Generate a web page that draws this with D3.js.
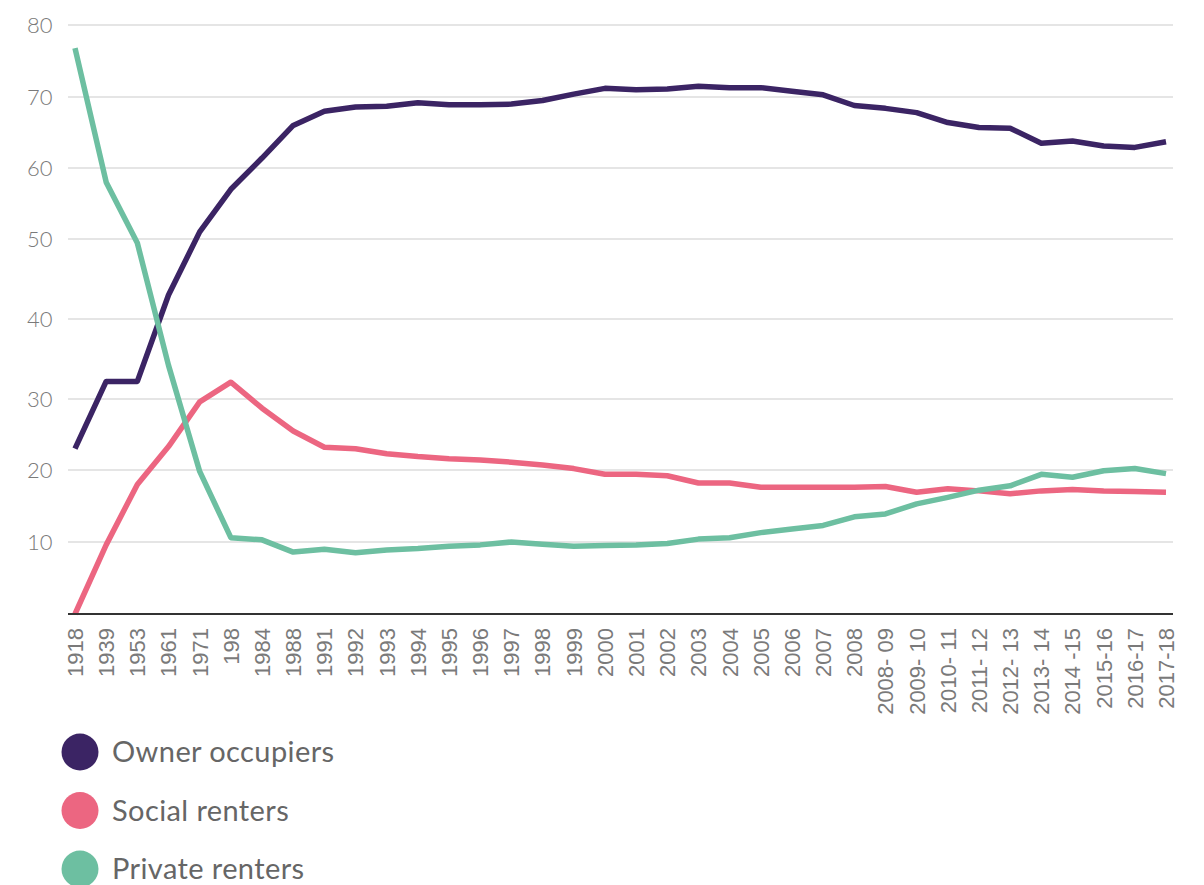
<!DOCTYPE html>
<html>
<head>
<meta charset="utf-8">
<script src="https://cdn.jsdelivr.net/npm/d3@7"></script>
<style>
  body { margin: 0; background: #fff; }
  svg { display: block; }
</style>
</head>
<body>
<svg id="chart" width="1204" height="885"></svg>
<script>
// Data (% of households)
const years = ["1918", "1939", "1953", "1961", "1971", "198", "1984", "1988", "1991",
    "1992", "1993", "1994", "1995", "1996", "1997", "1998", "1999", "2000", "2001",
    "2002", "2003", "2004", "2005", "2006", "2007", "2008", "2008- 09", "2009- 10",
    "2010- 11", "2011- 12", "2012- 13", "2013- 14", "2014 -15", "2015-16", "2016-17", "2017-18"];

const ownerOccupiers = [23, 32.2, 32.2, 43, 51, 57, 61.4, 66, 68, 68.6, 68.7, 69.2, 68.9,
    68.9, 69.0, 69.5, 70.4, 71.2, 71.0, 71.1, 71.5, 71.3, 71.3, 70.8, 70.3, 68.8, 68.4,
    67.8, 66.4, 65.7, 65.6, 63.5, 63.8, 63.1, 62.9, 63.7];

const socialRenters = [0, 9.6, 18, 23.3, 29.6, 32.1, 28.7, 25.5, 23.2, 23.0, 22.3, 21.9,
    21.6, 21.4, 21.1, 20.7, 20.2, 19.4, 19.4, 19.2, 18.2, 18.2, 17.6, 17.6, 17.6, 17.6,
    17.7, 16.9, 17.4, 17.1, 16.7, 17.1, 17.3, 17.1, 17.0, 16.9];

const privateRenters = [76.8, 58, 49.5, 34.2, 19.8, 10.6, 10.3, 8.6, 9.0, 8.5, 8.9, 9.1,
    9.4, 9.6, 10.0, 9.7, 9.4, 9.5, 9.6, 9.8, 10.4, 10.6, 11.3, 11.8, 12.3, 13.5, 13.9,
    15.3, 16.2, 17.2, 17.8, 19.4, 19.0, 19.9, 20.2, 19.5];

const yTicks = [10, 20, 30, 40, 50, 60, 70, 80];

const seriesNames = ["Owner occupiers", "Social renters", "Private renters"];
const seriesColors = ["#3b2464", "#ec6681", "#6dbfa1"];

const series = [ownerOccupiers, socialRenters, privateRenters].map((vals, i) => ({
    name: seriesNames[i],
    color: seriesColors[i],
    values: vals.map((v, j) => ({ year: years[j], value: v }))
}));

const svg = d3.select("#chart");

// Scales (gridlines in the reference are slightly unevenly spaced)
const x = d3.scalePoint()
    .domain(years)
    .range([75, 1166]);

const y = d3.scaleLinear()
    .domain([0, 10, 20, 30, 40, 50, 60, 70, 80])
    .range([614, 542, 470, 399, 319, 239, 168, 97, 25]);

const gridLeft = 68, gridRight = 1173;

// Gridlines + y labels
const yAxis = svg.append("g");
yAxis.selectAll("line")
    .data(yTicks)
    .join("line")
    .attr("x1", gridLeft)
    .attr("x2", gridRight)
    .attr("y1", d => y(d))
    .attr("y2", d => y(d))
    .attr("stroke", "#cccccc")
    .attr("stroke-width", 1.2);

yAxis.selectAll("text")
    .data(yTicks)
    .join("text")
    .attr("x", 27)
    .attr("y", d => y(d))
    .attr("dy", "0.36em")
    .attr("fill", "#7a7a7a")
    .style("font-family", "Lato, 'Open Sans', sans-serif")
    .style("font-weight", 300)
    .style("font-size", "22px")
    .text(d => d);

// Lines
const line = d3.line()
    .x(d => x(d.year))
    .y(d => y(d.value));

svg.append("g")
    .selectAll("path")
    .data(series)
    .join("path")
    .attr("d", d => line(d.values))
    .attr("fill", "none")
    .attr("stroke", d => d.color)
    .attr("stroke-width", 5.5)
    .attr("stroke-linejoin", "round");

// Bottom axis line
svg.append("line")
    .attr("x1", gridLeft)
    .attr("x2", gridRight)
    .attr("y1", y(0))
    .attr("y2", y(0))
    .attr("stroke", "#333")
    .attr("stroke-width", 2);

// X labels, rotated
svg.append("g")
    .selectAll("text")
    .data(years)
    .join("text")
    .attr("transform", d => `translate(${x(d)}, 628) rotate(-90)`)
    .attr("text-anchor", "end")
    .attr("dy", "0.36em")
    .attr("fill", "#7a7a7a")
    .style("font-family", "'Liberation Sans', Arial, sans-serif")
    .style("font-size", "22px")
    .text(d => d);

// Legend
const legend = svg.append("g")
    .selectAll("g")
    .data(series)
    .join("g")
    .attr("transform", (d, i) => `translate(80, ${752 + i * 58.5})`);

legend.append("circle")
    .attr("r", 18.5)
    .attr("fill", d => d.color);

legend.append("text")
    .attr("x", 32)
    .attr("dy", "0.36em")
    .attr("fill", "#666")
    .style("font-family", "Lato, 'Open Sans', sans-serif")
    .style("font-size", "29px")
    .style("letter-spacing", "0.4px")
    .text(d => d.name);
</script>
</body>
</html>
